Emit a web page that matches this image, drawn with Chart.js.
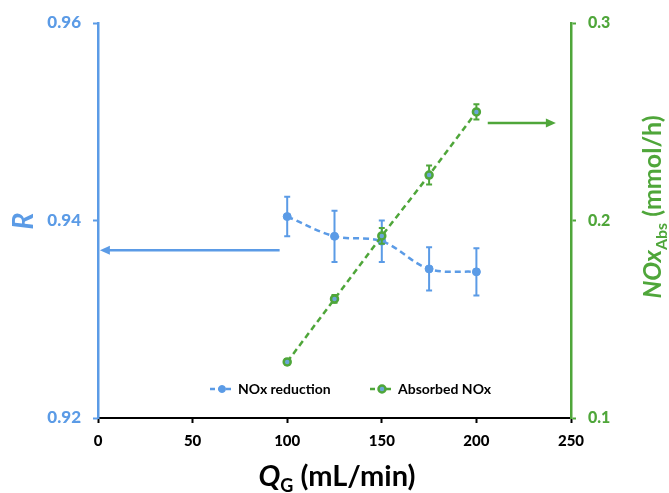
<!DOCTYPE html>
<html>
<head>
<meta charset="utf-8">
<script src="https://cdn.jsdelivr.net/npm/chart.js@4.4.1/dist/chart.umd.min.js"></script>
<style>
  body { margin: 0; background: #fff; }
  #wrap { width: 669px; height: 493px; }
</style>
</head>
<body>
<div id="wrap"><canvas id="chart"></canvas></div>
<script>
// values
const flowRates = [100, 125, 150, 175, 200]
const noxReduction = [0.9404, 0.9384, 0.9379, 0.9351, 0.9348]
const noxReductionErr = [0.0020, 0.0026, 0.0021, 0.0022, 0.0024]
const absorbedNox = [0.1284, 0.1603, 0.1922, 0.2230, 0.2550]
const absorbedNoxErr = [0.0015, 0.0020, 0.0040, 0.0048, 0.0038]
const xTicks = [0, 50, 100, 150, 200, 250]
const rTicks = [0.92, 0.94, 0.96]
const absTicks = [0.1, 0.2, 0.3]

const BLUE = "#5b9be6"
const GREEN = "#4fa63a"
const FONT = "Lato"

const points = (ys) => flowRates.map((x, i) => ({ x, y: ys[i] }))

// error bars, drawn under each dataset's markers
const errorBars = {
  id: "errorBars",
  beforeDatasetDraw(chart, args) {
    const ds = chart.data.datasets[args.index]
    if (!ds.errors) return
    const { ctx } = chart
    const xs = chart.scales.x
    const ys = chart.scales[ds.yAxisID]
    ctx.save()
    ctx.strokeStyle = ds.borderColor
    ctx.lineWidth = 2
    ds.data.forEach((p, i) => {
      const x = xs.getPixelForValue(p.x)
      const top = ys.getPixelForValue(p.y + ds.errors[i])
      const bot = ys.getPixelForValue(p.y - ds.errors[i])
      ctx.beginPath()
      ctx.moveTo(x, top); ctx.lineTo(x, bot)
      ctx.moveTo(x - 3, top); ctx.lineTo(x + 3, top)
      ctx.moveTo(x - 3, bot); ctx.lineTo(x + 3, bot)
      ctx.stroke()
    })
    ctx.restore()
  }
}

function arrow(ctx, x1, y, x2, color) {
  const dir = Math.sign(x2 - x1)
  ctx.save()
  ctx.strokeStyle = color
  ctx.fillStyle = color
  ctx.lineWidth = 2.5
  ctx.beginPath()
  ctx.moveTo(x1, y); ctx.lineTo(x2 - dir * 8, y)
  ctx.stroke()
  ctx.beginPath()
  ctx.moveTo(x2, y)
  ctx.lineTo(x2 - dir * 10, y - 4.5)
  ctx.lineTo(x2 - dir * 10, y + 4.5)
  ctx.closePath()
  ctx.fill()
  ctx.restore()
}

// text made of runs with different fonts (italic symbol + subscript)
function runs(ctx, parts, cx, baseY) {
  let total = 0
  parts.forEach(p => { ctx.font = p.font; total += ctx.measureText(p.text).width })
  let x = cx - total / 2
  parts.forEach(p => {
    ctx.font = p.font
    ctx.fillText(p.text, x, baseY + (p.dy || 0))
    x += ctx.measureText(p.text).width
  })
}

const decorations = {
  id: "decorations",
  afterDraw(chart) {
    const { ctx, scales } = chart
    const { x, yR, yAbs } = scales

    // arrows pointing at each series' axis
    arrow(ctx, x.getPixelForValue(96), yR.getPixelForValue(0.9370), x.getPixelForValue(1), BLUE)
    arrow(ctx, x.getPixelForValue(206), yAbs.getPixelForValue(0.2494), x.getPixelForValue(242), GREEN)

    ctx.save()
    ctx.textBaseline = "alphabetic"
    ctx.textAlign = "left"

    // x title
    ctx.fillStyle = "#000"
    runs(ctx, [
      { text: "Q", font: `italic bold 29px ${FONT}` },
      { text: "G", font: `bold 18px ${FONT}`, dy: 6 },
      { text: " (mL/min)", font: `bold 29px ${FONT}` }
    ], 337, 486)

    // left title
    ctx.save()
    ctx.translate(33, 221)
    ctx.rotate(-Math.PI / 2)
    ctx.fillStyle = BLUE
    runs(ctx, [{ text: "R", font: `italic bold 28px ${FONT}` }], 0, 0)
    ctx.restore()

    // right title
    ctx.save()
    ctx.translate(661, 207)
    ctx.rotate(-Math.PI / 2)
    ctx.fillStyle = GREEN
    runs(ctx, [
      { text: "NOx", font: `italic bold 25px ${FONT}` },
      { text: "Abs", font: `bold 16px ${FONT}`, dy: 6 },
      { text: " (mmol/h)", font: `bold 25px ${FONT}` }
    ], 0, 0)
    ctx.restore()

    // legend inside the plot
    const ly = 389
    chart.data.datasets.forEach((ds, i) => {
      const lx = [210, 370][i]
      ctx.strokeStyle = ds.borderColor
      ctx.lineWidth = 2.5
      ctx.setLineDash([5, 3])
      ctx.beginPath()
      ctx.moveTo(lx, ly); ctx.lineTo(lx + 24, ly)
      ctx.stroke()
      ctx.setLineDash([])
      ctx.beginPath()
      ctx.arc(lx + 12, ly, 3.5, 0, Math.PI * 2)
      ctx.fillStyle = ds.pointBackgroundColor
      ctx.fill()
      ctx.strokeStyle = ds.pointBorderColor
      ctx.lineWidth = ds.pointBorderWidth
      ctx.stroke()
      ctx.fillStyle = "#000"
      ctx.font = `bold 14px ${FONT}`
      ctx.textBaseline = "middle"
      ctx.fillText(ds.label, lx + 28, ly)
    })
    ctx.restore()
  }
}

const axisGrid = (color) => ({
  drawOnChartArea: false,
  drawTicks: true,
  tickLength: 5,
  tickWidth: 2,
  tickColor: color
})

new Chart(document.getElementById("chart"), {
  type: "line",
  data: {
    datasets: [
      {
        label: "NOx reduction",
        data: points(noxReduction),
        errors: noxReductionErr,
        yAxisID: "yR",
        borderColor: BLUE,
        backgroundColor: BLUE,
        pointBackgroundColor: BLUE,
        pointBorderColor: BLUE,
        pointBorderWidth: 1,
        pointRadius: 4,
        borderWidth: 2.5,
        borderDash: [6, 4],
        tension: 0.35,
        order: 2
      },
      {
        label: "Absorbed NOx",
        data: points(absorbedNox),
        errors: absorbedNoxErr,
        yAxisID: "yAbs",
        borderColor: GREEN,
        backgroundColor: GREEN,
        pointBackgroundColor: "#6aa6d8",
        pointBorderColor: GREEN,
        pointBorderWidth: 2.5,
        pointRadius: 3.5,
        borderWidth: 2.5,
        borderDash: [6, 4],
        tension: 0,
        order: 1
      }
    ]
  },
  options: {
    responsive: true,
    maintainAspectRatio: false,
    animation: false,
    layout: { padding: { top: 23 } },
    plugins: {
      legend: { display: false },
      tooltip: { enabled: false }
    },
    scales: {
      x: {
        type: "linear",
        min: 0,
        max: 250,
        afterBuildTicks: (s) => { s.ticks = xTicks.map(v => ({ value: v })) },
        afterFit: (s) => { s.height = 75 },
        border: { color: "#000", width: 2 },
        grid: axisGrid("#000"),
        ticks: { color: "#000", padding: 9, font: { family: FONT, weight: "900", size: 15 } }
      },
      yR: {
        type: "linear",
        position: "left",
        min: 0.92,
        max: 0.96,
        afterBuildTicks: (s) => { s.ticks = rTicks.map(v => ({ value: v })) },
        afterFit: (s) => { s.width = 98 },
        border: { color: BLUE, width: 2.5 },
        grid: axisGrid(BLUE),
        ticks: { color: BLUE, padding: 12, font: { family: FONT, weight: "900", size: 17 } }
      },
      yAbs: {
        type: "linear",
        position: "right",
        min: 0.1,
        max: 0.3,
        afterBuildTicks: (s) => { s.ticks = absTicks.map(v => ({ value: v })) },
        afterFit: (s) => { s.width = 98 },
        border: { color: GREEN, width: 2.5 },
        grid: axisGrid(GREEN),
        ticks: { color: GREEN, padding: 12, font: { family: FONT, weight: "900", size: 16 } }
      }
    }
  },
  plugins: [errorBars, decorations]
})
</script>
</body>
</html>
